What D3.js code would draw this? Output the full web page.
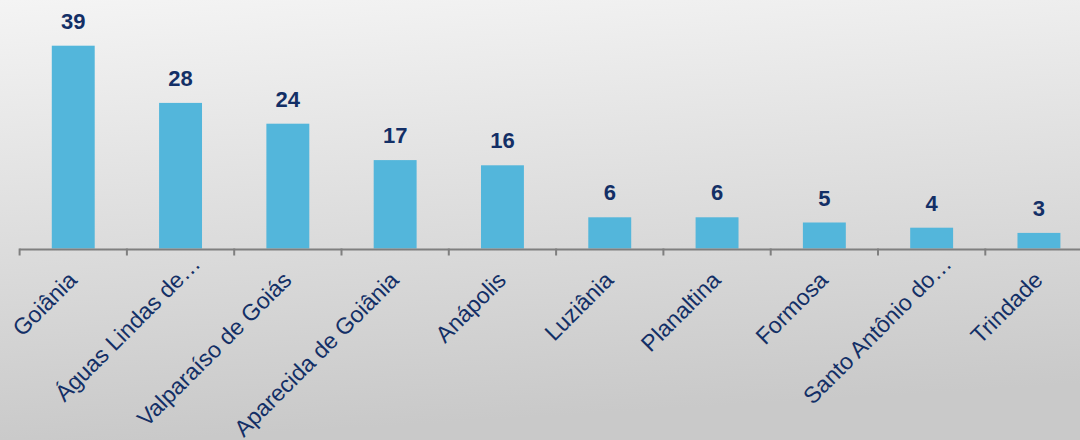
<!DOCTYPE html>
<html>
<head>
<meta charset="utf-8">
<script src="https://cdn.jsdelivr.net/npm/d3@7"></script>
<style>
  html, body { margin: 0; padding: 0; }
  body { width: 1080px; height: 440px; overflow: hidden; }
  svg { display: block; font-family: "Liberation Sans", Arial, sans-serif; }
</style>
</head>
<body>
<svg id="chart" width="1080" height="440"></svg>
<script>
// Municipalities and their counts
const categories = [
  "Goiânia", "Águas Lindas de…", "Valparaíso de Goiás", "Aparecida de Goiânia",
  "Anápolis", "Luziânia", "Planaltina", "Formosa", "Santo Antônio do…", "Trindade"
];
const values = [39, 28, 24, 17, 16, 6, 6, 5, 4, 3];

const width = 1080, height = 440;
const svg = d3.select("#chart");

// Background: light grey vertical gradient
const defs = svg.append("defs");
const grad = defs.append("linearGradient")
  .attr("id", "bg").attr("x1", 0).attr("y1", 0).attr("x2", 0.15).attr("y2", 1);
grad.append("stop").attr("offset", "0%").attr("stop-color", "#f4f4f4");
grad.append("stop").attr("offset", "100%").attr("stop-color", "#c9c9c9");
svg.append("rect").attr("width", width).attr("height", height).attr("fill", "url(#bg)");

// Plot area extends past the right edge, as in the original slide
const x0 = 19.6, step = 107.3;
const x = d3.scaleBand()
  .domain(categories)
  .range([x0, x0 + step * categories.length])
  .paddingInner(0.6).paddingOuter(0.3);

const y = d3.scaleLinear().domain([0, 39]).range([248.5, 45.7]);

// Bars
svg.append("g").selectAll("rect")
  .data(values)
  .join("rect")
  .attr("x", (d, i) => x(categories[i]))
  .attr("y", d => y(d))
  .attr("width", x.bandwidth())
  .attr("height", d => y(0) - y(d))
  .attr("fill", "#53b6db");

// Value labels
svg.append("g").selectAll("text")
  .data(values)
  .join("text")
  .attr("x", (d, i) => x(categories[i]) + x.bandwidth() / 2)
  .attr("y", d => y(d) - 17)
  .attr("text-anchor", "middle")
  .attr("font-size", 22)
  .attr("font-weight", "bold")
  .attr("fill", "#132f66")
  .text(d => d);

// Category axis: baseline with boundary ticks
const axis = svg.append("g");
const tickXs = d3.range(categories.length + 1).map(i => x0 + i * step);
axis.append("line")
  .attr("x1", x0).attr("x2", width)
  .attr("y1", y(0) + 1).attr("y2", y(0) + 1)
  .attr("stroke", "#7f7f7f").attr("stroke-width", 2);
axis.selectAll("line.tick")
  .data(tickXs)
  .join("line")
  .attr("class", "tick")
  .attr("x1", d => d).attr("x2", d => d)
  .attr("y1", y(0)).attr("y2", y(0) + 7)
  .attr("stroke", "#7f7f7f").attr("stroke-width", 2);

// Rotated category labels; a trailing ellipsis hangs past the anchor point
const labels = axis.selectAll("text")
  .data(categories)
  .join("text")
  .attr("transform", d => `translate(${x(d) + x.bandwidth() / 2 + 5},${y(0) + 33}) rotate(-45)`)
  .attr("text-anchor", "end")
  .attr("font-size", 23)
  .attr("fill", "#132f66")
  .text(d => d);

const probe = axis.append("text").attr("font-size", 23).text("…");
const ellipsisW = probe.node().getComputedTextLength();
probe.remove();
labels.attr("dx", d => d.endsWith("…") ? ellipsisW : 0);
</script>
</body>
</html>
